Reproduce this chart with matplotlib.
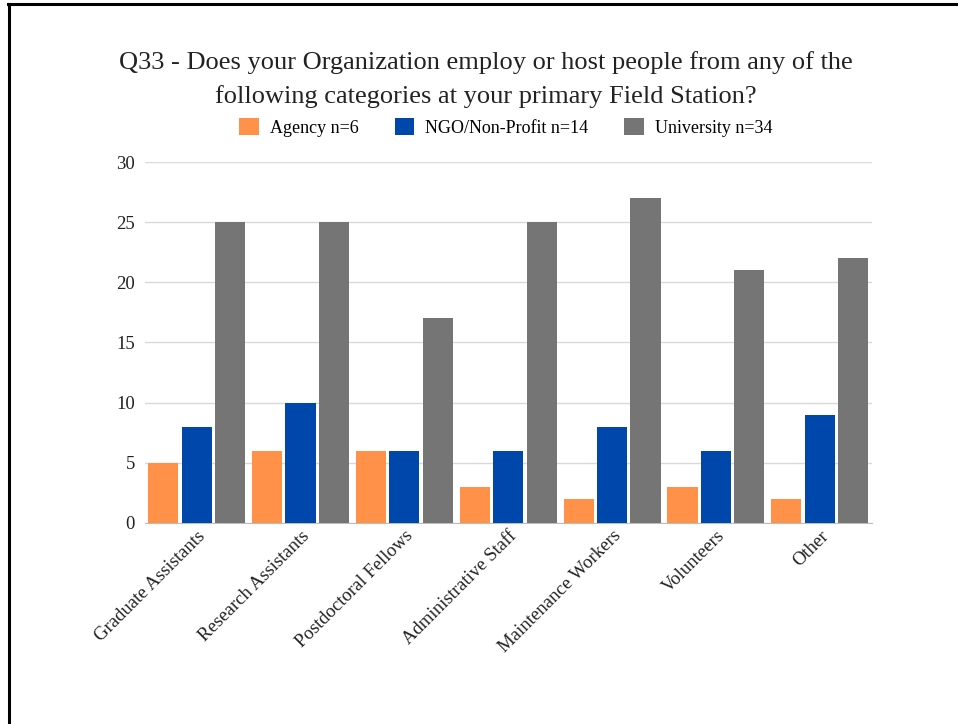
import numpy as np
import matplotlib.pyplot as plt

categories = ['Graduate Assistants', 'Research Assistants', 'Postdoctoral Fellows',
              'Administrative Staff', 'Maintenance Workers', 'Volunteers', 'Other']
agency = [5, 6, 6, 3, 2, 3, 2]
ngo = [8, 10, 6, 6, 8, 6, 9]
university = [25, 25, 17, 25, 27, 21, 22]
series_names = ['Agency n=6', 'NGO/Non-Profit n=14', 'University n=34']
colors = ['#ff9149', '#0047ab', '#757575']

plt.rcParams['font.family'] = ['Liberation Serif', 'DejaVu Serif']

fig = plt.figure(figsize=(9.58, 7.24), dpi=100)
ax = fig.add_axes([0.151, 0.278, 0.759, 0.498])

x = np.arange(len(categories))
w = 0.29
step = 0.322
for i, (vals, name, c) in enumerate(zip([agency, ngo, university], series_names, colors)):
    ax.bar(x + (i - 1) * step, vals, w, color=c, label=name, zorder=3)

ax.set_xlim(-0.5, len(categories) - 0.5)
ax.set_ylim(0, 30)
ax.set_yticks(range(0, 31, 5))
ax.grid(axis='y', color='#d9d9d9', linewidth=1, zorder=0)
for s in ['top', 'right', 'left']:
    ax.spines[s].set_visible(False)
ax.spines['bottom'].set_color('#bdbdbd')
ax.tick_params(axis='both', length=0, labelsize=13.5, colors='#222222')
ax.tick_params(axis='y', pad=7)
ax.set_xticks(x)
ax.set_xticklabels(categories, rotation=45, ha='right', va='top',
                   rotation_mode='anchor', fontsize=13.5)

# two-line title
fig.text(0.507, 0.913, 'Q33 - Does your Organization employ or host people from any of the',
         ha='center', va='center', fontsize=19, color='#222222')
fig.text(0.507, 0.867, 'following categories at your primary Field Station?',
         ha='center', va='center', fontsize=19, color='#222222')

ax.legend(loc='center', bbox_to_anchor=(0.528, 0.824), bbox_transform=fig.transFigure,
          ncol=3, frameon=False, fontsize=13, handlelength=1.1, handleheight=1.1,
          columnspacing=2.0, handletextpad=0.6)

# frame of the screenshot (top and left edges)
fig.add_artist(plt.Line2D([0.0095, 0.0095], [0, 0.995], color='black', linewidth=2.2,
                          transform=fig.transFigure))
fig.add_artist(plt.Line2D([0.0085, 1.0], [0.994, 0.994], color='black', linewidth=2.2,
                          transform=fig.transFigure))

fig.savefig('out.png', dpi=100)
